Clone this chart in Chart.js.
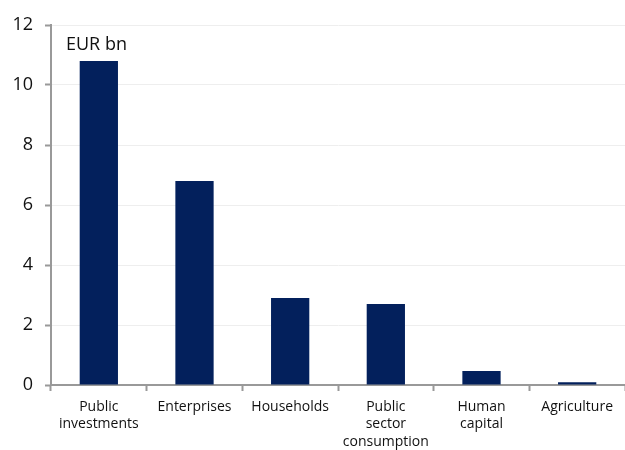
<!DOCTYPE html>
<html>
<head>
<meta charset="utf-8">
<script src="https://cdn.jsdelivr.net/npm/chart.js@4"></script>
<style>
  html, body { margin: 0; padding: 0; background: #fff; }
  #wrap { width: 625px; height: 450px; }
</style>
</head>
<body>
<div id="wrap"><canvas id="c"></canvas></div>
<script>
// categories and values
const categories = [
    ["Public", "investments"],
    "Enterprises",
    "Households",
    ["Public", "sector", "consumption"],
    ["Human", "capital"],
    "Agriculture"
];
const amounts = [10.8, 6.8, 2.9, 2.7, 0.47, 0.09];
const unitLabel = "EUR bn";

const fontFamily = "'Open Sans', 'Noto Sans', sans-serif";

// draws the unit text inside the plot, top-left
const unitPlugin = {
    id: "unitLabel",
    afterDraw(chart) {
        const { ctx, chartArea } = chart;
        ctx.save();
        ctx.font = "18px " + fontFamily;
        ctx.fillStyle = "#111";
        ctx.textBaseline = "middle";
        ctx.textAlign = "left";
        ctx.fillText(unitLabel, chartArea.left + 15, chartArea.top + 20);
        ctx.restore();
    }
};

new Chart(document.getElementById("c"), {
    type: "bar",
    data: {
        labels: categories,
        datasets: [{
            data: amounts,
            backgroundColor: "#03205c",
            categoryPercentage: 0.4,
            barPercentage: 1.0
        }]
    },
    options: {
        responsive: true,
        maintainAspectRatio: false,
        animation: false,
        layout: { padding: { top: 25, right: 0, left: 1, bottom: 0 } },
        plugins: {
            legend: { display: false },
            tooltip: { enabled: false }
        },
        scales: {
            x: {
                offset: true,
                grid: {
                    offset: true,
                    drawOnChartArea: false,
                    tickLength: 6,
                    tickColor: "#999",
                    tickWidth: 2
                },
                border: { color: "#999", width: 2 },
                ticks: {
                    color: "#111",
                    font: { family: fontFamily, size: 14, lineHeight: 1.25 },
                    maxRotation: 0,
                    autoSkip: false,
                    padding: 7
                },
                afterFit(scale) { scale.height = 65; }
            },
            y: {
                min: 0,
                max: 12,
                ticks: {
                    stepSize: 2,
                    color: "#111",
                    font: { family: fontFamily, size: 18 },
                    padding: 12
                },
                grid: {
                    color: "#eeeeee",
                    tickColor: "#999",
                    tickLength: 6,
                    tickWidth: 2
                },
                border: { color: "#999", width: 2 },
                afterFit(scale) { scale.width = 50; }
            }
        }
    },
    plugins: [unitPlugin]
});
</script>
</body>
</html>
